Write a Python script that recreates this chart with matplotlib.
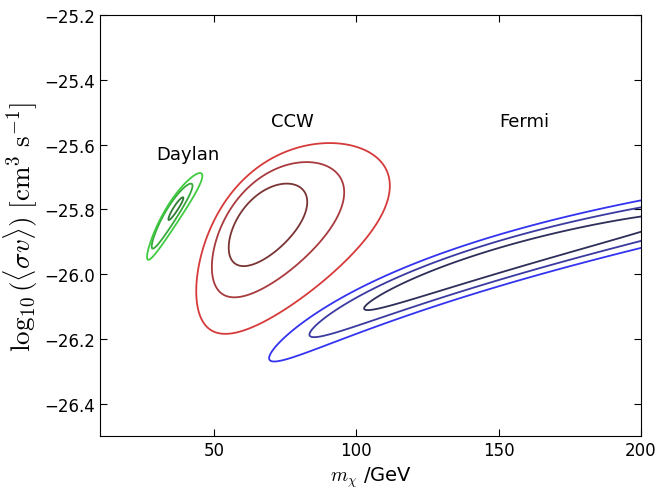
import numpy as np
import matplotlib.pyplot as plt

plt.rcParams['mathtext.fontset'] = 'cm'

# best-fit regions, roughly Gaussian in (log10 m, log10 sigma v)
# one centre per contour level (inner, middle, outer)
names = ["Daylan", "CCW", "Fermi"]
centre_logm = [[1.563, 1.539, 1.543],
               [1.830, 1.837, 1.845],
               [2.173, 2.173, 2.173]]
centre_sv = [[-25.798, -25.821, -25.822],
             [-25.848, -25.863, -25.890],
             [-25.961, -25.961, -25.961]]
sigma_logm = [0.040, 0.058, 0.100]
slope = [1.05, 0.80, 0.90]
sigma_cond = [0.016, 0.070, 0.024]
chi2_levels = [[0.62, 5.0, 8.9], [2.30, 6.18, 12.3], [2.6, 6.3, 11.0]]
colours = [["#2f7a34", "#36aa3a", "#40cc40"],
           ["#7a3434", "#a83a3e", "#d63a3a"],
           ["#2e2e5a", "#3a3aa0", "#3333f0"]]

xticks = [50, 100, 150, 200]
yticks = [-26.4, -26.2, -26.0, -25.8, -25.6, -25.4, -25.2]

fig = plt.figure(figsize=(6.59, 4.89), dpi=100)
ax = fig.add_axes([0.1517, 0.1063, 0.821, 0.861])

m = np.linspace(10, 260, 900)
sv = np.linspace(-26.6, -25.1, 700)
M, S = np.meshgrid(m, sv)
U = np.log10(M)

for i in range(len(names)):
    for k in range(3):
        du = (U - centre_logm[i][k]) / sigma_logm[i]
        dv = (S - centre_sv[i][k] - slope[i] * (U - centre_logm[i][k])) / sigma_cond[i]
        chi2 = du**2 + dv**2
        ax.contour(M, S, chi2, levels=[chi2_levels[i][k]], colors=[colours[i][k]],
                   linewidths=1.3)

ax.text(41, -25.63, "Daylan", fontsize=13, ha='center', va='center')
ax.text(77.5, -25.527, "CCW", fontsize=13, ha='center', va='center')
ax.text(159, -25.527, "Fermi", fontsize=13, ha='center', va='center')

ax.set_xlim(10, 200)
ax.set_ylim(-26.5, -25.2)
ax.set_xticks(xticks)
ax.set_yticks(yticks)
ax.tick_params(direction='in', top=True, right=True, labelsize=12, length=5)
ax.set_xlabel(r"$m_\chi$ /GeV", fontsize=14)
ax.set_ylabel(r"$\log_{10}(\langle\sigma v\rangle)\ [\mathrm{cm}^3\ \mathrm{s}^{-1}]$",
              fontsize=19.5, labelpad=3)

fig.savefig("out.png", dpi=100)
